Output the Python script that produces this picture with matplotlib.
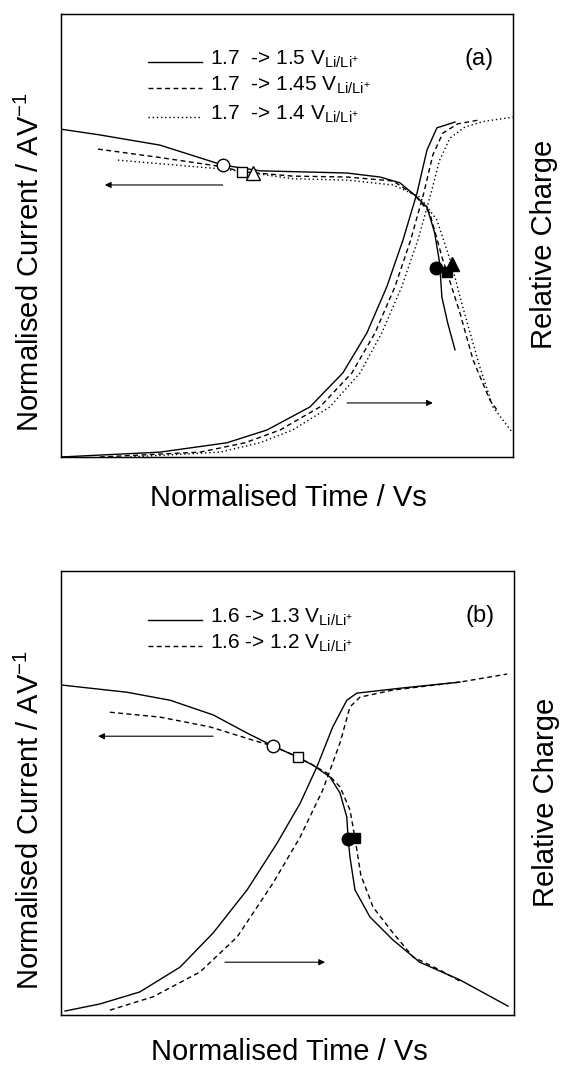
import numpy as np
from matplotlib import pyplot as plt

# values in percent of the axis range (normalised time, current, charge)
# ---- panel (a) ----
a_cur_15_x = [0, 8.6, 21.9, 35.8, 44.0, 63.3, 70.6, 75.0, 78.3, 81.0, 82.7, 83.8, 84.3, 85.6, 87.2]
a_cur_15_y = [74.0, 72.7, 70.4, 65.9, 64.6, 64.1, 63.2, 61.9, 59.1, 56.4, 50.6, 43.8, 36.1, 30.2, 24.2]
a_cur_145_x = [8.2, 21.9, 35.8, 40.0, 51.3, 63.3, 73.5, 78.3, 81.6, 84.5, 85.4, 88.3, 91.2, 94.9, 96.5]
a_cur_145_y = [69.5, 67.6, 65.5, 64.4, 63.4, 63.2, 62.3, 59.1, 55.1, 44.5, 41.8, 32.5, 21.9, 12.9, 10.6]
a_cur_14_x = [12.6, 35.8, 42.5, 51.3, 63.3, 73.5, 79.4, 83.2, 86.5, 88.9, 92.7, 95.6, 100]
a_cur_14_y = [67.0, 65.0, 64.1, 62.8, 62.5, 61.4, 58.7, 53.5, 43.3, 33.9, 20.3, 11.3, 5.4]

a_chg_15_x = [0, 21.9, 36.7, 45.6, 55.1, 62.4, 67.7, 72.1, 75.7, 78.8, 81.0, 83.2, 87.2]
a_chg_15_y = [0, 1.1, 3.2, 6.1, 11.3, 19.0, 28.0, 38.4, 49.0, 59.6, 69.3, 74.3, 75.6]
a_chg_145_x = [8.6, 30.8, 40.7, 48.5, 57.3, 64.4, 69.5, 73.9, 77.4, 80.3, 82.3, 84.5, 87.8, 92.7]
a_chg_145_y = [0, 1.1, 3.2, 6.1, 11.3, 19.0, 28.0, 38.4, 49.0, 59.6, 68.2, 73.1, 75.2, 76.1]
a_chg_14_x = [15.3, 35.2, 44.0, 51.3, 59.5, 66.2, 71.0, 75.4, 79.0, 81.9, 83.8, 86.1, 89.4, 93.8, 100]
a_chg_14_y = [0, 1.1, 3.2, 6.1, 11.3, 19.0, 28.0, 38.4, 49.0, 59.6, 67.0, 72.0, 74.5, 75.8, 76.7]

a_open_x = [35.8, 40.0, 42.5]
a_open_y = [65.9, 64.3, 64.1]
a_fill_x = [83.0, 85.4, 86.5]
a_fill_y = [42.7, 41.8, 43.6]
a_labels = ["1.7  -> 1.5 V", "1.7  -> 1.45 V", "1.7  -> 1.4 V"]

# ---- panel (b) ----
b_cur_13_x = [0.4, 14.6, 24.1, 33.6, 41.1, 46.8, 51.2, 55.6, 59.4, 61.6, 63.1, 63.4, 63.8, 64.9, 68.2, 73.3, 79.2, 88.1, 98.7]
b_cur_13_y = [74.3, 72.7, 70.9, 67.6, 63.5, 60.6, 58.6, 56.3, 53.6, 50.0, 44.6, 39.6, 35.6, 28.2, 22.1, 16.9, 11.9, 7.9, 2.0]
b_cur_12_x = [10.8, 21.9, 32.9, 42.4, 46.8, 52.3, 55.6, 58.7, 61.6, 63.8, 64.9, 66.2, 68.9, 73.3, 77.7, 83.7, 88.5]
b_cur_12_y = [68.2, 67.1, 64.9, 61.9, 60.6, 58.1, 56.3, 54.5, 51.4, 46.2, 39.9, 31.5, 24.3, 18.5, 13.1, 10.1, 7.4]

b_chg_13_x = [0.9, 8.6, 17.4, 26.3, 33.6, 41.1, 47.7, 52.8, 56.5, 60.0, 63.1, 65.3, 74.8, 88.1]
b_chg_13_y = [0.9, 2.5, 5.2, 10.8, 18.5, 28.2, 38.7, 47.7, 55.9, 64.9, 70.9, 72.5, 73.6, 75.0]
b_chg_12_x = [10.8, 20.3, 30.7, 38.9, 46.8, 52.8, 57.8, 61.6, 63.8, 66.0, 73.3, 88.1, 98.5]
b_chg_12_y = [1.1, 4.1, 9.7, 17.6, 29.7, 40.1, 50.7, 61.3, 69.4, 71.6, 73.2, 75.0, 76.8]

b_open_x = [46.8, 52.3]
b_open_y = [60.6, 58.1]
b_fill_x = [63.4, 64.9]
b_fill_y = [39.6, 39.9]
b_labels = ["1.6 -> 1.3 V", "1.6 -> 1.2 V"]

plt.rcParams['font.family'] = ['Liberation Sans', 'DejaVu Sans']
plt.rcParams['mathtext.fontset'] = 'custom'
plt.rcParams['mathtext.rm'] = 'Liberation Sans'

styles = ['-', (0, (3.5, 2.5)), (0, (1, 2))]
open_marks = ['o', 's', '^']
fill_marks = ['o', 's', '^']
msizes = [9, 7.5, 9.5]


def arrow(ax, tail, head):
    ax.annotate('', xy=head, xytext=tail,
                arrowprops=dict(arrowstyle='-|>', lw=0.8, color='k', mutation_scale=9,
                                shrinkA=0, shrinkB=0))


def panel(ax, cur, chg, opn, fil, labels, tag, arrows, leg_y, xlab_y):
    for i, (x, y) in enumerate(cur):
        ax.plot(x, y, color='k', lw=1.0, ls=styles[i])
    for i, (x, y) in enumerate(chg):
        ax.plot(x, y, color='k', lw=1.0, ls=styles[i])
    for i in range(len(opn[0])):
        ax.plot(opn[0][i], opn[1][i], marker=open_marks[i], ms=msizes[i], mfc='white',
                mec='k', mew=1.0, ls='none', zorder=5)
        ax.plot(fil[0][i], fil[1][i], marker=fill_marks[i], ms=msizes[i], mfc='k',
                mec='k', ls='none', zorder=5)
    for i, lab in enumerate(labels):
        ax.plot([19.2, 31.2], [leg_y[i], leg_y[i]], color='k', lw=1.0, ls=styles[i])
        ax.text(33.0, leg_y[i] + 0.6, lab + r'$_{\mathregular{Li/Li^{+}}}$', fontsize=15,
                va='center', ha='left')
    ax.text(92.5, 89.8, tag, fontsize=17, ha='center', va='center')
    arrow(ax, *arrows[0])
    arrow(ax, *arrows[1])
    ax.set_xlim(0, 100)
    ax.set_ylim(0, 100)
    ax.set_xticks([])
    ax.set_yticks([])
    for s in ax.spines.values():
        s.set_linewidth(1.0)
    ax.set_xlabel('Normalised Time / Vs', fontsize=21, va='center')
    ax.xaxis.set_label_coords(0.504, xlab_y)
    ax.set_ylabel(r'Normalised Current / AV$^{\mathregular{-1}}$', fontsize=21, va='center')
    ax.yaxis.set_label_coords(-0.067, 0.44)
    ax2 = ax.twinx()
    ax2.set_ylim(0, 100)
    ax2.set_yticks([])
    ax2.set_ylabel('Relative Charge', fontsize=21, va='center', rotation=90)
    ax2.yaxis.set_label_coords(1.07, 0.48)


fig = plt.figure(figsize=(5.62, 10.67), dpi=100)
ax_a = fig.add_axes([0.1085, 0.5717, 0.804, 0.4152])
ax_b = fig.add_axes([0.1085, 0.0487, 0.806, 0.4161])

panel(ax_a,
      [(a_cur_15_x, a_cur_15_y), (a_cur_145_x, a_cur_145_y), (a_cur_14_x, a_cur_14_y)],
      [(a_chg_15_x, a_chg_15_y), (a_chg_145_x, a_chg_145_y), (a_chg_14_x, a_chg_14_y)],
      (a_open_x, a_open_y), (a_fill_x, a_fill_y), a_labels, '(a)',
      [((35.8, 61.4), (9.7, 61.4)), ((63.3, 12.2), (82.3, 12.2))],
      [89.2, 83.3, 76.7], -0.093)

panel(ax_b,
      [(b_cur_13_x, b_cur_13_y), (b_cur_12_x, b_cur_12_y)],
      [(b_chg_13_x, b_chg_13_y), (b_chg_12_x, b_chg_12_y)],
      (b_open_x, b_open_y), (b_fill_x, b_fill_y), b_labels, '(b)',
      [((33.6, 62.8), (8.2, 62.8)), ((36.2, 11.9), (58.3, 11.9))],
      [89.0, 83.2], -0.083)

plt.savefig("out.png", dpi=100)
